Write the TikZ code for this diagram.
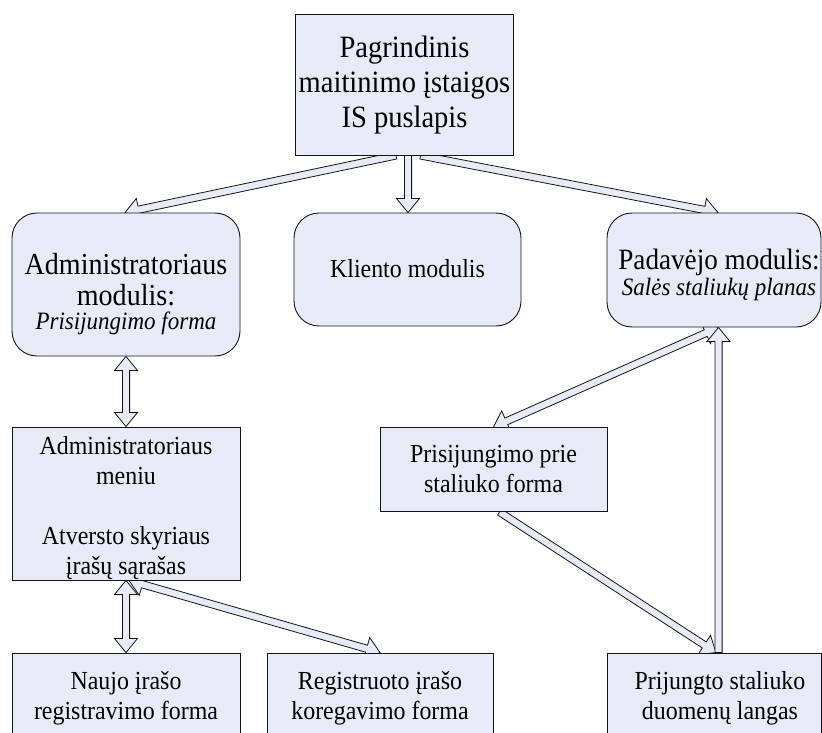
\documentclass[tikz,border=0pt]{standalone}
\usepackage{fontspec}
\setmainfont{Liberation Serif}[FakeStretch=0.92]
\usetikzlibrary{calc}
\pgfdeclarelayer{background}
\pgfsetlayers{background,main}

\definecolor{boxfill}{RGB}{230,235,247}
\definecolor{edge}{RGB}{20,20,20}

% block arrow geometry: half shaft width, half head width, head length
\def\blksw{3.6pt}
\def\blkhw{11.5pt}
\def\blkhl{14pt}

% outlined block arrow from #1 to #2
\newcommand\blkone[2]{%
  \path ($(#2)!\blkhl!(#1)$) coordinate (bA);
  \draw[blk] ($(#1)!\blksw!90:(#2)$) -- ($(bA)!\blksw!90:(#2)$) -- ($(bA)!\blkhw!90:(#2)$)
    -- (#2) -- ($(bA)!\blkhw!-90:(#2)$) -- ($(bA)!\blksw!-90:(#2)$)
    -- ($(#1)!\blksw!-90:(#2)$) -- cycle;}

% outlined block arrow with heads at both ends
\newcommand\blktwo[2]{%
  \path ($(#1)!\blkhl!(#2)$) coordinate (bB) ($(#2)!\blkhl!(#1)$) coordinate (bA);
  \draw[blk] (#1) -- ($(bB)!\blkhw!90:(#2)$) -- ($(bB)!\blksw!90:(#2)$)
    -- ($(bA)!\blksw!90:(#2)$) -- ($(bA)!\blkhw!90:(#2)$) -- (#2)
    -- ($(bA)!\blkhw!-90:(#2)$) -- ($(bA)!\blksw!-90:(#2)$)
    -- ($(bB)!\blksw!-90:(#2)$) -- ($(bB)!\blkhw!-90:(#2)$) -- cycle;}

\newcommand\itl{\fontsize{25}{26}\selectfont\itshape}

\tikzset{
  box/.style={draw=edge, fill=boxfill, line width=0.9pt, inner sep=0pt},
  rbox/.style={box, rounded corners=25pt},
  blk/.style={draw=edge, fill=boxfill, line width=0.8pt, line join=miter},
  lbl/.style={align=center, inner sep=0pt},
  big/.style={font=\fontsize{31}{35}\selectfont},
  mid/.style={font=\fontsize{30.5}{31}\selectfont},
  small/.style={font=\fontsize{26}{30}\selectfont},
}

\begin{document}
\begin{tikzpicture}[x=1pt,y=-1pt]
\useasboundingbox (0,0) rectangle (822,733);
\clip (0,0) rectangle (822,733);

% boxes
\node[box, minimum width=218, minimum height=141] (top) at (404.5,84.5) {};
\node[rbox, minimum width=228, minimum height=143] (adm) at (126,284.5) {};
\node[rbox, minimum width=227, minimum height=113] (kli) at (407.5,269.5) {};
\node[rbox, minimum width=214, minimum height=114] (pad) at (714,270) {};
\node[box, minimum width=228, minimum height=153] (men) at (126,503.5) {};
\node[box, minimum width=227, minimum height=84] (pri) at (493.5,469.5) {};
\node[box, minimum width=228, minimum height=90] (nau) at (126,698) {};
\node[box, minimum width=226, minimum height=90] (reg) at (380,698) {};
\node[box, minimum width=214, minimum height=90] (prj) at (714,698) {};

% texts (yshift is a canvas shift: negative moves down)
\node[lbl, big] (toptxt) at ([yshift=-1]top.center) {Pagrindinis\\maitinimo įstaigos\\IS puslapis};
\node[lbl, mid] (admtxt) at ([yshift=-10]adm.center) {Administratoriaus\\modulis:\\[-7pt]{\itl Prisijungimo forma}};
\node[lbl, small] (klitxt) at ([yshift=1]kli.center) {Kliento modulis};
\node[lbl, font=\fontsize{29.5}{31}\selectfont] (padtxt) at ([xshift=5,yshift=-5]pad.center) {Padavėjo modulis:\\[-5pt]{\itl Salės staliukų planas}};
\node[lbl, small] (mentxt) at ([yshift=-5]men.center) {Administratoriaus\\meniu\\ \\Atversto skyriaus\\įrašų sąrašas};
\node[lbl, small] (pritxt) at (pri.center) {Prisijungimo prie\\staliuko forma};
\node[lbl, small] (nautxt) at (nau.center) {Naujo įrašo\\registravimo forma};
\node[lbl, small] (regtxt) at (reg.center) {Registruoto įrašo\\koregavimo forma};
\node[lbl, small] (prjtxt) at ([xshift=6]prj.center) {Prijungto staliuko\\duomenų langas};

% connector end points
\coordinate (t1) at ([xshift=-8.5]top.south);
\coordinate (t2) at ([xshift=3.5]top.south);
\coordinate (t3) at ([xshift=16]top.south);
\coordinate (a1) at ([xshift=-1]adm.north);
\coordinate (k1) at ([xshift=0.5]kli.north);
\coordinate (p1) at ([xshift=4]pad.north);
\coordinate (p2) at ([xshift=4.5]pad.south);
\coordinate (r1) at ([xshift=6]pri.south);
\coordinate (j1) at ([xshift=2]prj.north);
\coordinate (j2) at ([xshift=4.5]prj.north);
\coordinate (m1) at ([xshift=3]men.south);

\begin{pgfonlayer}{background}
\fill[white] (0,0) rectangle (822,733);
\blkone{t1}{a1}
\blkone{t2}{k1}
\blkone{t3}{p1}
\blktwo{adm.south}{men.north}
\blktwo{men.south}{nau.north}
\blktwo{m1}{reg.north}
\blktwo{pri.north}{p2}
\blkone{r1}{j1}
\blkone{j2}{p2}
\end{pgfonlayer}
\end{tikzpicture}
\end{document}
